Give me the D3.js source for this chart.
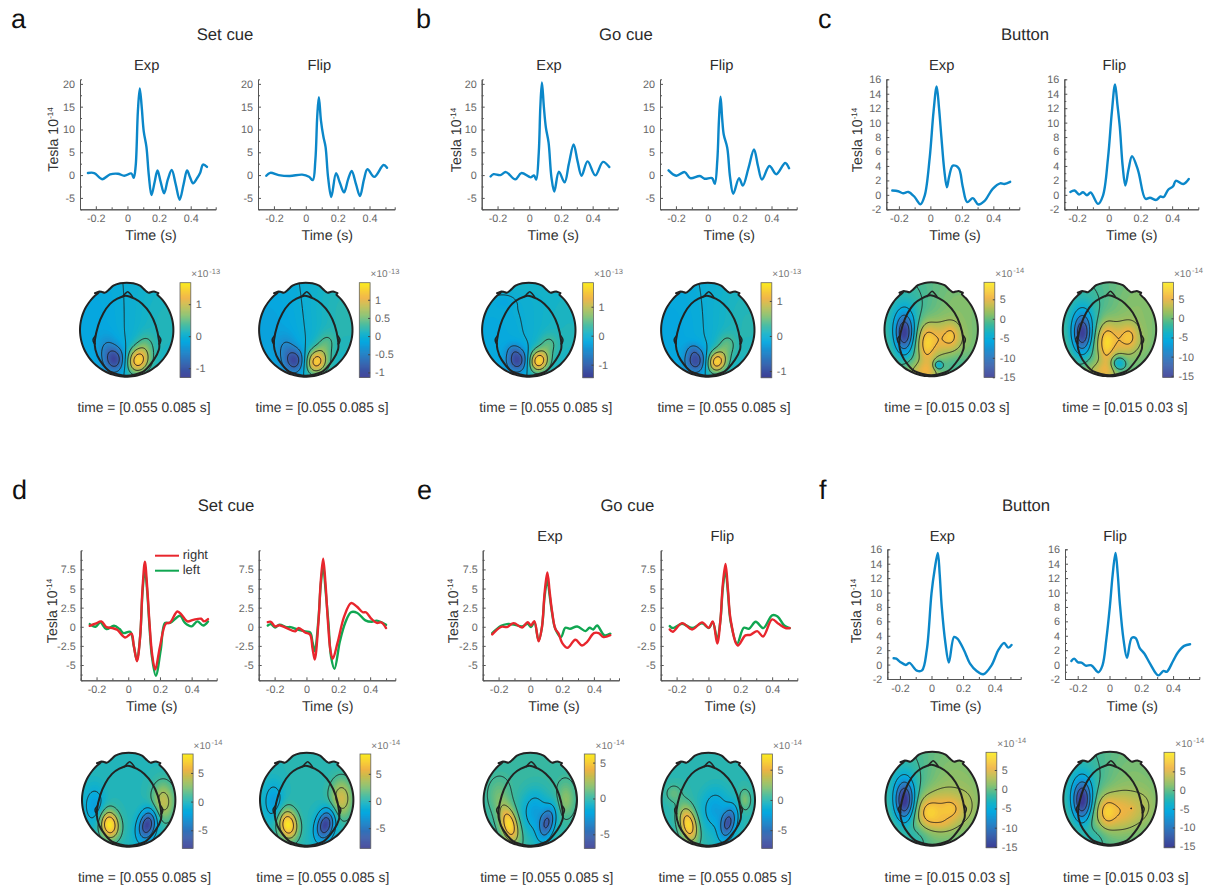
<!DOCTYPE html>
<html>
<head>
<meta charset="utf-8">
<style>
  html, body { margin: 0; padding: 0; background: #fff; }
  svg { display: block; font-family: "Liberation Sans", Arial, sans-serif; text-rendering: geometricPrecision; }
  .axis text { fill: #666; font-size: 10.8px; font-family: "Liberation Sans", Arial, sans-serif; }
  .axis path, .axis line { stroke: #555; }
  .bar text { fill: #666; font-size: 10.8px; font-family: "Liberation Sans", Arial, sans-serif; }
  .bar line { stroke: #444; }
  .bar path { display: none; }
</style>
<script src="https://cdn.jsdelivr.net/npm/d3@7"></script>
</head>
<body>
<script>
// ---- traces, [time s, Tesla 1e-14] ----
const aExp = [[-.25,.45],[-.21,.45],[-.16,-.9],[-.11,.15],[-.06,.3],[-.02,-.15],[.025,.35],[.04,-.6],[.052,2],[.066,14],[.078,19],[.09,15],[.103,9.6],[.12,6.2],[.135,0],[.152,-4.4],[.172,-1.5],[.19,1],[.21,-1.5],[.232,-4],[.255,-1],[.28,1.1],[.305,-2],[.33,-5.4],[.355,-2],[.377,1],[.395,-.4],[.415,-1.8],[.44,-.7],[.46,.5],[.478,2.3],[.503,1.8]];
const aFlip = [[-.248,-.15],[-.223,.5],[-.17,0],[-.1,-.2],[-.023,.1],[.02,-.35],[.044,-1.1],[.06,3.3],[.072,13],[.082,17.1],[.095,12],[.11,8.5],[.124,6.2],[.14,-.5],[.16,-4.8],[.19,.4],[.215,-1.8],[.24,-3.8],[.265,-1],[.288,.9],[.315,-2],[.34,-4.6],[.365,-1],[.387,1.3],[.43,-.4],[.488,2.2],[.51,1.6]];
const bExp = [[-.244,-.3],[-.225,.2],[-.183,0],[-.147,.66],[-.088,-.95],[-.05,.44],[.01,-.5],[.03,-.07],[.044,-1],[.06,4.9],[.07,15],[.08,20.3],[.092,15],[.105,10.4],[.122,7.1],[.14,-.5],[.158,-3.6],[.187,.74],[.223,-1.6],[.25,2.5],[.28,6.7],[.305,3],[.33,-.15],[.368,3],[.417,-.07],[.465,2.9],[.505,1.76]];
const bFlip = [[-.246,1.03],[-.198,-.15],[-.145,.66],[-.11,-.66],[-.05,-.2],[-.02,-.8],[.027,-.66],[.044,-1.9],[.06,3.4],[.07,12],[.08,17.2],[.09,12.5],[.1,8.9],[.122,6],[.14,-.5],[.16,-4.1],[.196,-.66],[.22,-2.3],[.255,1.5],[.29,5.6],[.315,2],[.34,-1],[.387,2],[.43,.2],[.486,2.65],[.51,1.5]];
const cExp = [[-.242,.6],[-.204,.5],[-.173,.23],[-.14,.4],[-.1,-.3],[-.063,-1.3],[-.036,-.1],[-.004,5.2],[.02,11.5],[.04,15],[.055,12],[.07,8],[.088,3.5],[.105,1.06],[.12,2.6],[.143,4.06],[.18,3.7],[.205,1.2],[.234,-1],[.27,-.46],[.305,-1.34],[.343,-.88],[.396,.83],[.444,1.6],[.47,1.5],[.507,1.8]];
const cFlip = [[-.242,.4],[-.215,.6],[-.187,.05],[-.162,.37],[-.137,-.05],[-.114,.32],[-.067,-1.25],[-.036,-.1],[-.004,5.2],[.02,11.5],[.04,15.3],[.055,12.5],[.07,9.4],[.088,4],[.105,1.3],[.125,3.5],[.147,5.35],[.185,3.4],[.232,-.55],[.26,-.4],[.3,-.7],[.326,-.23],[.347,-.3],[.375,.7],[.406,1.2],[.423,1.94],[.47,1.5],[.505,2.2]];
const dExpRight = [[-.243,.13],[-.207,.4],[-.17,.7],[-.138,-.04],[-.1,-.17],[-.07,-.4],[-.02,-1.4],[.02,-.9],[.035,-2.5],[.055,-4.5],[.075,-1.3],[.09,5],[.105,8.5],[.12,5],[.134,.5],[.15,-3.5],[.17,-5.6],[.2,-2.6],[.237,.4],[.264,.57],[.31,2],[.337,1.57],[.373,.7],[.41,.9],[.46,1.05],[.477,.7],[.503,1]];
const dExpLeft = [[-.243,.35],[-.207,0],[-.176,.57],[-.138,-.3],[-.09,.13],[-.055,-.3],[-.03,-.83],[.012,-.65],[.035,-2.5],[.055,-4.4],[.075,-1.3],[.09,4.5],[.105,7.5],[.12,4.5],[.134,.05],[.15,-4],[.174,-6.4],[.205,-3],[.232,.5],[.264,.5],[.327,1.44],[.358,.5],[.4,.05],[.436,.7],[.473,.17],[.503,.7]];
const dFlipRight = [[-.243,.6],[-.224,.65],[-.197,.04],[-.17,.2],[-.124,-.17],[-.07,-.6],[-.05,-.17],[-.008,-.74],[.023,-1.05],[.038,-2.8],[.052,-4.3],[.075,.5],[.09,6],[.105,8.9],[.12,5.5],[.134,.9],[.15,-3],[.165,-4.2],[.195,-2.1],[.237,1.35],[.28,3.1],[.316,2.66],[.354,1.9],[.373,1.9],[.41,1],[.442,.5],[.47,.57],[.5,-.17]];
const dFlipLeft = [[-.243,.17],[-.224,.35],[-.197,-.1],[-.17,.26],[-.124,-.04],[-.1,-.04],[-.07,-.26],[-.008,-.6],[.023,-.74],[.038,-2],[.052,-3.2],[.075,.9],[.09,5.5],[.105,7.9],[.12,4.8],[.138,.5],[.155,-4],[.176,-5.5],[.21,-1.9],[.243,.5],[.28,1.9],[.32,1.8],[.37,.83],[.41,.65],[.442,.8],[.5,.26]];
const eExpRight = [[-.24,-1],[-.184,0],[-.147,-.04],[-.105,.48],[-.052,-.09],[-.017,.6],[.004,.17],[.025,.74],[.052,-1.9],[.073,-.04],[.09,4.5],[.107,7.1],[.122,4.5],[.136,2.1],[.157,-.26],[.178,-.9],[.2,-2.1],[.234,-2.75],[.283,-1.7],[.325,-2.45],[.356,-2],[.4,-.83],[.43,-.83],[.46,-1.35],[.503,-1.1]];
const eExpLeft = [[-.24,-.83],[-.184,.13],[-.147,.35],[-.105,.3],[-.052,.04],[-.017,.4],[.004,-.04],[.025,.6],[.052,-1.8],[.073,-.04],[.09,4],[.107,6.1],[.122,4],[.136,1.9],[.157,-.26],[.193,-1.35],[.22,-.13],[.25,-.26],[.295,.04],[.347,-.57],[.373,-.13],[.396,-.35],[.42,.17],[.467,-1.13],[.503,-.9]];
const eFlipRight = [[-.243,-.35],[-.224,-.65],[-.166,.48],[-.103,-.35],[-.04,.57],[.002,-.13],[.027,.7],[.055,-2.2],[.075,.83],[.09,5.5],[.107,8.2],[.122,5],[.14,.83],[.184,-2.45],[.232,-1.13],[.264,-1.05],[.306,-.57],[.343,-1.27],[.4,.96],[.44,.4],[.484,-.17],[.51,-.17]];
const eFlipLeft = [[-.243,.09],[-.224,-.17],[-.166,.4],[-.103,-.17],[-.04,.44],[.002,-.17],[.027,.6],[.055,-1.57],[.075,.83],[.09,5],[.107,7.4],[.122,4.5],[.14,.6],[.18,-2.2],[.222,-.13],[.254,-.26],[.297,.65],[.345,-.17],[.4,1.5],[.434,1.35],[.476,.17],[.51,-.17]];
const fExp = [[-.24,.88],[-.223,.83],[-.198,.37],[-.162,-.05],[-.14,.23],[-.093,-.83],[-.06,-.8],[-.03,2],[0,9.9],[.02,13.2],[.04,15.5],[.052,12.5],[.065,8],[.088,3],[.11,.28],[.143,3.84],[.164,3.6],[.206,2],[.244,.14],[.286,-.88],[.328,-1.34],[.38,-.1],[.423,2],[.46,3],[.486,2.36],[.507,2.73]];
const fFlip = [[-.24,.5],[-.223,.83],[-.198,.32],[-.177,.28],[-.15,-.14],[-.114,-.1],[-.07,-1.06],[-.044,-.1],[-.02,3.5],[.002,8],[.02,12.5],[.038,15.5],[.052,12.5],[.065,8.5],[.088,3.5],[.11,.93],[.14,3.7],[.164,3.7],[.19,2.3],[.22,1.5],[.255,.14],[.307,-1.5],[.34,-.88],[.36,-1],[.4,.5],[.43,1.67],[.47,2.6],[.507,2.83]];

// ---- tick labels ----
const xTicks = [-0.2, 0, 0.2, 0.4];
const xMinor = [-0.1, 0.1, 0.3, 0.5];
const yTicksAB = [-5, 0, 5, 10, 15, 20];
const yMinorAB = [-2.5, 2.5, 7.5, 12.5, 17.5];
const yTicksCF = [-2, 0, 2, 4, 6, 8, 10, 12, 14, 16];
const yMinorCF = [-1, 1, 3, 5, 7, 9, 11, 13, 15];
const yTicksDE = [-5, -2.5, 0, 2.5, 5, 7.5];
const yMinorDE = [-6.25, -3.75, -1.25, 1.25, 3.75, 6.25, 8.75];
const legendLabels = ["right", "left"];

// ---- sensor fields: blobs [u, v, peak, su, sv, rotation deg], u/v in head radii ----
const aExpField = [[-.25,-.64,-1.05,.16,.19,0],[-.42,-.38,-.28,.14,.2,0],[.24,-.65,1.42,.17,.2,-20],[.4,-.3,.25,.14,.18,0],[.8,.1,.22,.55,.9,0],[-.8,.1,-.17,.7,1,0]];
const aFlipField = [[-.23,-.66,-.9,.16,.18,0],[-.42,-.38,-.25,.14,.2,0],[.22,-.68,1.22,.17,.19,-20],[.42,-.3,.28,.14,.18,-15],[.85,.3,.24,.6,.9,0],[-.85,-.1,-.2,.7,1,0]];
const bExpField = [[-.24,-.65,-1.22,.16,.18,0],[-.34,-.42,-.25,.1,.1,0],[.21,-.66,1.62,.15,.17,-20],[.42,-.3,.35,.14,.16,0],[.85,-.1,.2,.55,.9,0],[-.8,-.3,-.16,.6,.75,0],[-.52,.6,-.14,.13,.09,0],[-.3,1.05,.14,.7,.2,0]];
const bFlipField = [[-.25,-.66,-.96,.16,.18,0],[-.32,-.42,-.2,.1,.1,0],[.19,-.68,1.3,.15,.17,-22],[.4,-.32,.33,.14,.17,0],[.85,.1,.22,.55,.9,0],[-.85,-.1,-.16,.65,1,0]];
const cExpField = [[-.57,-.085,-13.5,.147,.3,0],[.12,-.22,5.6,.38,.28,0],[-.1,-.38,4,.12,.34,0],[.43,-.13,2.8,.11,.17,0],[-.15,-.9,4.5,.25,.15,0],[.15,-.76,-5.5,.07,.07,0],[.45,-.75,-1.5,.25,.2,0],[.6,.5,1.2,.4,.4,0],[-.6,.3,-2.5,.4,.6,0]];
const cFlipField = [[-.575,-.085,-13.8,.147,.3,0],[.12,-.22,5.6,.38,.28,0],[-.07,-.36,4.2,.11,.34,0],[.43,-.15,2.8,.11,.17,0],[-.15,-.9,4.2,.25,.15,0],[.2,-.72,-6,.11,.11,0],[.6,.5,1.2,.4,.4,0],[-.6,.3,-2.5,.4,.6,0]];
const dExpField = [[-.41,-.53,8.1,.14,.21,8],[.4,-.53,-7.9,.13,.23,-15],[.74,-.04,4.3,.17,.29,0],[-.73,-.12,-2.6,.15,.27,0],[0,.4,.3,1.2,1.2,0]];
const dFlipField = [[-.4,-.53,8.4,.14,.22,8],[.4,-.53,-8.5,.13,.23,-15],[.745,.03,4.8,.17,.29,0],[-.71,-.03,-2.9,.14,.27,0],[0,.4,.3,1.2,1.2,0]];
const eExpField = [[-.45,-.53,5.6,.13,.28,15],[.36,-.5,-4.9,.11,.25,-15],[.1,-.25,-2.5,.2,.32,0],[.76,0,1.7,.13,.25,0],[-.68,.1,1,.16,.25,0],[0,.5,.4,1,.9,0]];
const eFlipField = [[-.425,-.53,6.8,.13,.27,12],[.425,-.5,-6.2,.11,.24,-15],[.15,-.2,-2.6,.2,.3,0],[-.745,.14,1.4,.12,.13,0],[.78,0,2,.09,.16,0],[0,.5,.3,1,.9,0]];
const fExpField = [[-.59,-.04,-14.5,.145,.3,0],[.14,-.27,6.4,.4,.31,0],[-.1,-.3,2.9,.14,.2,0],[.42,-.2,1.6,.12,.14,0],[.2,-.52,1,.16,.1,0],[.78,-.1,1,.2,.3,0],[.45,.5,1.5,.5,.45,0],[-.35,-.85,-2,.2,.2,0],[-.6,.3,-2.5,.4,.6,0]];
const fFlipField = [[-.59,-.04,-14.8,.145,.3,0],[.14,-.27,6.3,.42,.31,0],[-.07,-.28,3.3,.12,.22,0],[.46,-.2,1.4,.035,.035,0],[.78,-.1,1,.2,.3,0],[.45,.5,1.3,.5,.45,0],[-.35,-.85,-2,.2,.2,0],[-.6,.3,-2.5,.4,.6,0]];

// contour line levels, colour bar ranges, colour bar labels
const aExpLevels = [-.87,-.45,-.03,.39,.81,1.25], aExpRange = [-1.29,1.67], aExpLabels = [-1,0,1];
const aFlipLevels = [-.77,-.39,-.02,.35,.72,1.1], aFlipRange = [-1.14,1.47], aFlipLabels = [-1,-.5,0,.5,1];
const bExpLevels = [-.98,-.51,-.04,.43,.89,1.36], bExpRange = [-1.45,1.83], bExpLabels = [-1,0,1];
const bFlipLevels = [-.8,-.42,-.03,.36,.75,1.13], bFlipRange = [-1.19,1.52], bFlipLabels = [-1,0,1];
const cExpLevels = [-11.5,-8,-4.56,-1.08,2.4,5.88], cExpRange = [-15,9.36], cExpLabels = [-15,-10,-5,0,5];
const cFlipLevels = [-11.86,-8.3,-4.8,-1.2,2.3,5.86], cFlipRange = [-15.4,9.4], cFlipLabels = [-15,-10,-5,0,5];
const dExpLevels = [-5.8,-3.45,-1.1,1.25,3.6,5.95], dExpRange = [-8.14,8.3], dExpLabels = [-5,0,5];
const dFlipLevels = [-6.2,-3.74,-1.26,1.2,3.7,6.2], dFlipRange = [-8.7,8.65], dFlipLabels = [-5,0,5];
const eExpLevels = [-5.07,-3.2,-1.3,.58,2.46,4.3], eExpRange = [-6.95,6.2], eExpLabels = [-5,0,5];
const eFlipLevels = [-5.77,-3.54,-1.3,.91,3.14,5.37], eFlipRange = [-8,7.6], eFlipLabels = [-5,0,5];
const fExpLevels = [-11.66,-8.1,-4.6,-1.03,2.5,6.06], fExpRange = [-15.2,9.6], fExpLabels = [-15,-10,-5,0,5];
const fFlipLevels = [-11.76,-8.1,-4.5,-.83,2.8,6.46], fFlipRange = [-15.4,10.1], fFlipLabels = [-15,-10,-5,0,5];

const parulaStops = ["#3b3b94","#3a62ad","#2486c9","#05a8e0","#14b2c8","#3db89a","#86bf6a","#c3bd4f","#f0b343","#f8cf37","#fbeb20"];
const parulaAt = [0,.13,.26,.38,.47,.56,.66,.76,.84,.92,1];

// ---- layout (pixels) ----
const plotA = { top: 79.3, bottom: 209.3 }, plotB = { top: 550.3, bottom: 680.3 };
const xFull = [-0.3, 0.558], xShort = [-0.28, 0.565];

const panels = [
  { letter: "a", lx: 11, ly: 28, title: "Set cue", tx: 225, ty: 40, labelX: 58.3, labelY: 139.5, rows: plotA, yDomain: [-7.5, 21], yTicks: yTicksAB, yMinor: yMinorAB, xDomain: xFull, xlabelY: 239.5, capY: 412, topoY: 330, barY: [282.7, 377.5], power: -13, plots: [
    { name: "Exp", nameX: 146.7, nameY: 70, left: 80, right: 215.7, timeX: 151, series: [aExp], capX: 144, cx: 126.7, barX: 180, field: aExpField, levels: aExpLevels, range: aExpRange, labels: aExpLabels, cap: "time = [0.055 0.085 s]" },
    { name: "Flip", nameX: 319.3, nameY: 70, left: 258, right: 394.7, timeX: 327.3, series: [aFlip], capX: 322, cx: 305.8, barX: 359.3, field: aFlipField, levels: aFlipLevels, range: aFlipRange, labels: aFlipLabels, cap: "time = [0.055 0.085 s]" } ] },
  { letter: "b", lx: 416, ly: 27.5, title: "Go cue", tx: 626, ty: 40, labelX: 460.7, labelY: 140, rows: plotA, yDomain: [-7.5, 21], yTicks: yTicksAB, yMinor: yMinorAB, xDomain: xFull, xlabelY: 239.5, capY: 412, topoY: 330, barY: [282.7, 377.7], power: -13, plots: [
    { name: "Exp", nameX: 549, nameY: 70, left: 481.7, right: 617.7, timeX: 553.3, series: [bExp], capX: 545.8, cx: 528.8, barX: 582.7, field: bExpField, levels: bExpLevels, range: bExpRange, labels: bExpLabels, cap: "time = [0.055 0.085 s]" },
    { name: "Flip", nameX: 721.7, nameY: 70, left: 660, right: 796.7, timeX: 729.3, series: [bFlip], capX: 724, cx: 707.8, barX: 761, field: bFlipField, levels: bFlipLevels, range: bFlipRange, labels: bFlipLabels, cap: "time = [0.055 0.085 s]" } ] },
  { letter: "c", lx: 818, ly: 27.5, title: "Button", tx: 1025, ty: 40, labelX: 862.3, labelY: 140, rows: plotA, yDomain: [-2, 16], yTicks: yTicksCF, yMinor: yMinorCF, xDomain: xShort, xlabelY: 239.5, capY: 412, topoY: 329.6, barY: [282.3, 377.3], power: -14, plots: [
    { name: "Exp", nameX: 941.7, nameY: 70, left: 886.3, right: 1019.3, timeX: 955, series: [cExp], capX: 947, cx: 931.2, barX: 984, field: cExpField, levels: cExpLevels, range: cExpRange, labels: cExpLabels, cap: "time = [0.015 0.03 s]" },
    { name: "Flip", nameX: 1114.3, nameY: 70, left: 1064.3, right: 1198.3, timeX: 1131.7, series: [cFlip], capX: 1125, cx: 1109.5, barX: 1162.7, field: cFlipField, levels: cFlipLevels, range: cFlipRange, labels: cFlipLabels, cap: "time = [0.015 0.03 s]" } ] },
  { letter: "d", lx: 12, ly: 499, title: "Set cue", tx: 226, ty: 511, labelX: 56.7, labelY: 611, rows: plotB, yDomain: [-7, 10], yTicks: yTicksDE, yMinor: yMinorDE, xDomain: xFull, xlabelY: 710.7, capY: 882, topoY: 800, barY: [754, 848.3], power: -14, legend: true, plots: [
    { name: null, left: 80.7, right: 216.7, timeX: 151.7, series: [dExpLeft, dExpRight], capX: 144.5, cx: 128.7, barX: 182.3, field: dExpField, levels: dExpLevels, range: dExpRange, labels: dExpLabels, cap: "time = [0.055 0.085 s]" },
    { name: null, left: 258.7, right: 395.3, timeX: 327.7, series: [dFlipLeft, dFlipRight], capX: 322.8, cx: 306.7, barX: 360, field: dFlipField, levels: dFlipLevels, range: dFlipRange, labels: dFlipLabels, cap: "time = [0.055 0.085 s]" } ] },
  { letter: "e", lx: 417, ly: 499, title: "Go cue", tx: 627.3, ty: 511, labelX: 458, labelY: 611, rows: plotB, yDomain: [-7, 10], yTicks: yTicksDE, yMinor: yMinorDE, xDomain: xFull, xlabelY: 710.7, capY: 882, topoY: 800, barY: [754, 848.3], power: -14, plots: [
    { name: "Exp", nameX: 550, nameY: 541, left: 482.7, right: 619, timeX: 554, series: [eExpLeft, eExpRight], capX: 546.7, cx: 530.3, barX: 584.3, field: eExpField, levels: eExpLevels, range: eExpRange, labels: eExpLabels, cap: "time = [0.055 0.085 s]" },
    { name: "Flip", nameX: 722.3, nameY: 541, left: 660.7, right: 797.3, timeX: 730.3, series: [eFlipLeft, eFlipRight], capX: 725, cx: 708.3, barX: 761.7, field: eFlipField, levels: eFlipLevels, range: eFlipRange, labels: eFlipLabels, cap: "time = [0.055 0.085 s]" } ] },
  { letter: "f", lx: 819, ly: 499, title: "Button", tx: 1026, ty: 511, labelX: 860.7, labelY: 611, rows: { top: 549.3, bottom: 679 }, yDomain: [-2, 16], yTicks: yTicksCF, yMinor: yMinorCF, xDomain: xShort, xlabelY: 711, capY: 881.5, topoY: 799, barY: [752.3, 847.7], power: -14, plots: [
    { name: "Exp", nameX: 942.3, nameY: 541, left: 887.3, right: 1020.7, timeX: 955.7, series: [fExp], capX: 947.3, cx: 932.2, barX: 986, field: fExpField, levels: fExpLevels, range: fExpRange, labels: fExpLabels, cap: "time = [0.015 0.03 s]" },
    { name: "Flip", nameX: 1115, nameY: 541, left: 1065, right: 1199.3, timeX: 1132.3, series: [fFlip], capX: 1125.8, cx: 1110, barX: 1164, field: fFlipField, levels: fFlipLevels, range: fFlipRange, labels: fFlipLabels, cap: "time = [0.015 0.03 s]" } ] }
];

const topoR = 46.7, barW = 10.8, gridN = 110, gridSpan = 1.15;
const blue = "#0b87c9", red = "#e8262d", green = "#10a651";

// sensor outline and head, in head radii
const outline = [[0,1.014],[-.14,1],[-.286,.95],[-.39,.855],[-.464,.8],[-.53,.815],[-.586,.825],[-.64,.805],[-.68,.79]]
  .concat(d3.range(127, 413, 6).map(a => [Math.cos(a * Math.PI / 180), Math.sin(a * Math.PI / 180)]))
  .concat([[.68,.79],[.64,.805],[.586,.825],[.53,.815],[.464,.8],[.39,.855],[.286,.95],[.14,1]]);
const head = [[-.02,.736],[-.2,.67],[-.357,.56],[-.5,.36],[-.61,.1],[-.68,-.214],[-.67,-.42],[-.58,-.64],[-.357,-.89],[0,-.98],[.357,-.89],[.58,-.64],[.69,-.42],[.69,-.214],[.62,.1],[.5,.36],[.33,.56],[.17,.67]];
const nose = [[-.1,.7],[-.03,.78],[.02,.82],[.07,.78],[.13,.7]];
const earL = [[-.67,-.12],[-.72,-.2],[-.7,-.28],[-.665,-.3]];
const earR = [[.685,-.12],[.73,-.2],[.715,-.28],[.68,-.3]];

const svg = d3.select("body").append("svg").attr("width", 1206).attr("height", 888);
const parula = d3.scaleLinear().domain(parulaAt).range(parulaStops).clamp(true);

function fieldAt(blobs, u, v) {
  let s = 0;
  blobs.forEach(b => {
    const r = b[5] * Math.PI / 180, du = u - b[0], dv = v - b[1];
    const a = du * Math.cos(r) + dv * Math.sin(r), c = -du * Math.sin(r) + dv * Math.cos(r);
    s += b[2] * Math.exp(-0.5 * (a * a / (b[3] * b[3]) + c * c / (b[4] * b[4])));
  });
  return s;
}

function drawPlot(g, panel, plot) {
  const x = d3.scaleLinear().domain(panel.xDomain).range([plot.left, plot.right]);
  const y = d3.scaleLinear().domain(panel.yDomain).range([panel.rows.bottom, panel.rows.top]);
  const fmt = d => String(d);

  g.append("g").attr("class", "axis").attr("transform", "translate(0," + panel.rows.bottom + ")")
    .call(d3.axisBottom(x).tickValues(xMinor).tickSize(-2).tickFormat(""));
  g.append("g").attr("class", "axis").attr("transform", "translate(0," + panel.rows.bottom + ")")
    .call(d3.axisBottom(x).tickValues(xTicks).tickSizeInner(-3).tickSizeOuter(0).tickPadding(5).tickFormat(fmt));
  g.append("g").attr("class", "axis").attr("transform", "translate(" + plot.left + ",0)")
    .call(d3.axisLeft(y).tickValues(panel.yMinor).tickSize(-2).tickFormat(""));
  g.append("g").attr("class", "axis").attr("transform", "translate(" + plot.left + ",0)")
    .call(d3.axisLeft(y).tickValues(panel.yTicks).tickSizeInner(-3).tickSizeOuter(0).tickPadding(5).tickFormat(fmt));

  const line = d3.line().x(d => x(d[0])).y(d => y(d[1])).curve(d3.curveCatmullRom.alpha(0.5));
  plot.series.forEach((s, i) => {
    const colour = plot.series.length === 1 ? blue : (i === 0 ? green : red);
    g.append("path").datum(s).attr("fill", "none").attr("stroke", colour)
      .attr("stroke-width", 2.4).attr("stroke-linejoin", "round").attr("stroke-linecap", "round")
      .attr("d", line);
  });

  g.append("text").attr("x", plot.timeX).attr("y", panel.xlabelY).attr("text-anchor", "middle")
    .attr("font-size", 14.2).attr("fill", "#333").text("Time (s)");
  if (plot.name) {
    g.append("text").attr("x", plot.nameX).attr("y", plot.nameY).attr("text-anchor", "middle")
      .attr("font-size", 14.7).attr("fill", "#2b2b2b").text(plot.name);
  }
}

function drawTopo(g, panel, plot, id) {
  const cx = plot.cx, cy = panel.topoY;
  const u = d3.scaleLinear().domain([-1, 1]).range([cx - topoR, cx + topoR]);
  const v = d3.scaleLinear().domain([-1, 1]).range([cy + topoR, cy - topoR]);
  const gridU = d3.scaleLinear().domain([0, gridN]).range([-gridSpan, gridSpan]);
  const gridV = d3.scaleLinear().domain([0, gridN]).range([gridSpan, -gridSpan]);

  const values = new Array(gridN * gridN);
  for (let j = 0; j < gridN; j++) {
    for (let i = 0; i < gridN; i++) {
      values[j * gridN + i] = fieldAt(plot.field, gridU(i + 0.5), gridV(j + 0.5));
    }
  }

  const colour = d3.scaleLinear().domain(plot.range).range([0, 1]);
  const outlinePath = d3.line().x(d => u(d[0])).y(d => v(d[1])).curve(d3.curveCardinalClosed.tension(0.3));
  const openPath = d3.line().x(d => u(d[0])).y(d => v(d[1])).curve(d3.curveCardinal.tension(0.3));

  g.append("clipPath").attr("id", id).append("path").attr("d", outlinePath(outline));
  const field = g.append("g").attr("clip-path", "url(#" + id + ")");
  field.append("rect").attr("x", cx - 1.2 * topoR).attr("y", cy - 1.2 * topoR)
    .attr("width", 2.4 * topoR).attr("height", 2.4 * topoR)
    .attr("fill", parula(colour(plot.range[0])));

  const toPixels = d3.geoPath(d3.geoTransform({
    point(px, py) { this.stream.point(u(gridU(px)), v(gridV(py))); }
  }));
  const bands = d3.range(plot.range[0], plot.range[1], (plot.range[1] - plot.range[0]) / 64);
  const contours = d3.contours().size([gridN, gridN]);
  field.selectAll("path.band").data(contours.thresholds(bands)(values)).join("path")
    .attr("class", "band").attr("d", toPixels).attr("fill", d => parula(colour(d.value)));
  field.selectAll("path.iso").data(contours.thresholds(plot.levels)(values)).join("path")
    .attr("class", "iso").attr("d", toPixels).attr("fill", "none")
    .attr("stroke", "#1c1c1c").attr("stroke-width", 0.85);

  g.append("path").attr("d", outlinePath(outline)).attr("fill", "none").attr("stroke", "#222").attr("stroke-width", 2);
  g.append("path").attr("d", outlinePath(head)).attr("fill", "none").attr("stroke", "#222").attr("stroke-width", 2);
  [nose, earL, earR].forEach(p => {
    g.append("path").attr("d", openPath(p)).attr("fill", "none").attr("stroke", "#222").attr("stroke-width", 1.5);
  });

  // colour bar
  const barY = d3.scaleLinear().domain(plot.range).range([panel.barY[1], panel.barY[0]]);
  const barG = g.append("g");
  barG.selectAll("rect").data(d3.range(0, 96)).join("rect")
    .attr("x", plot.barX).attr("width", barW)
    .attr("y", d => barY(plot.range[0] + (d + 1) / 96 * (plot.range[1] - plot.range[0])))
    .attr("height", (panel.barY[1] - panel.barY[0]) / 96 + 0.4)
    .attr("fill", d => parula((d + 0.5) / 96));
  barG.append("rect").attr("x", plot.barX).attr("y", panel.barY[0]).attr("width", barW)
    .attr("height", panel.barY[1] - panel.barY[0]).attr("fill", "none").attr("stroke", "#666").attr("stroke-width", 0.8);
  g.append("g").attr("class", "bar").attr("transform", "translate(" + (plot.barX + barW) + ",0)")
    .call(d3.axisRight(barY).tickValues(plot.labels).tickSize(-2).tickPadding(5).tickFormat(d => String(d)));

  const mult = g.append("text").attr("x", plot.barX + barW + 0.5).attr("y", panel.barY[0] - 5.5)
    .attr("font-size", 10).attr("fill", "#777");
  mult.append("tspan").text("\u00d710");
  mult.append("tspan").attr("dy", -3.5).attr("dx", 1).attr("font-size", 7.5).text(panel.power);

  g.append("text").attr("x", plot.capX).attr("y", panel.capY).attr("text-anchor", "middle")
    .attr("font-size", 13.8).attr("fill", "#333").text(plot.cap);
}

panels.forEach((panel, pi) => {
  const g = svg.append("g");
  g.append("text").attr("x", panel.lx).attr("y", panel.ly).attr("font-size", 27).attr("fill", "#111").text(panel.letter);
  g.append("text").attr("x", panel.tx).attr("y", panel.ty).attr("text-anchor", "middle")
    .attr("font-size", 16.7).attr("fill", "#2b2b2b").text(panel.title);

  const tesla = g.append("text").attr("transform", "translate(" + panel.labelX + "," + panel.labelY + ") rotate(-90)")
    .attr("text-anchor", "middle").attr("font-size", 14.2).attr("fill", "#333");
  tesla.append("tspan").text("Tesla 10");
  tesla.append("tspan").attr("dy", -5).attr("font-size", 8).text("-14");

  panel.plots.forEach((plot, i) => {
    drawPlot(g, panel, plot);
    drawTopo(g, panel, plot, "clip" + pi + "_" + i);
  });

  if (panel.legend) {
    const lg = g.append("g");
    const legendY = d3.scalePoint().domain(legendLabels).range([555.7, 570.7]);
    legendLabels.forEach((name, i) => {
      lg.append("line").attr("x1", 155).attr("x2", 179).attr("y1", legendY(name)).attr("y2", legendY(name))
        .attr("stroke", i === 0 ? red : green).attr("stroke-width", 2);
      lg.append("text").attr("x", 182.7).attr("y", legendY(name) + 3.7).attr("font-size", 13).attr("fill", "#333").text(name);
    });
  }
});
</script>
</body>
</html>
